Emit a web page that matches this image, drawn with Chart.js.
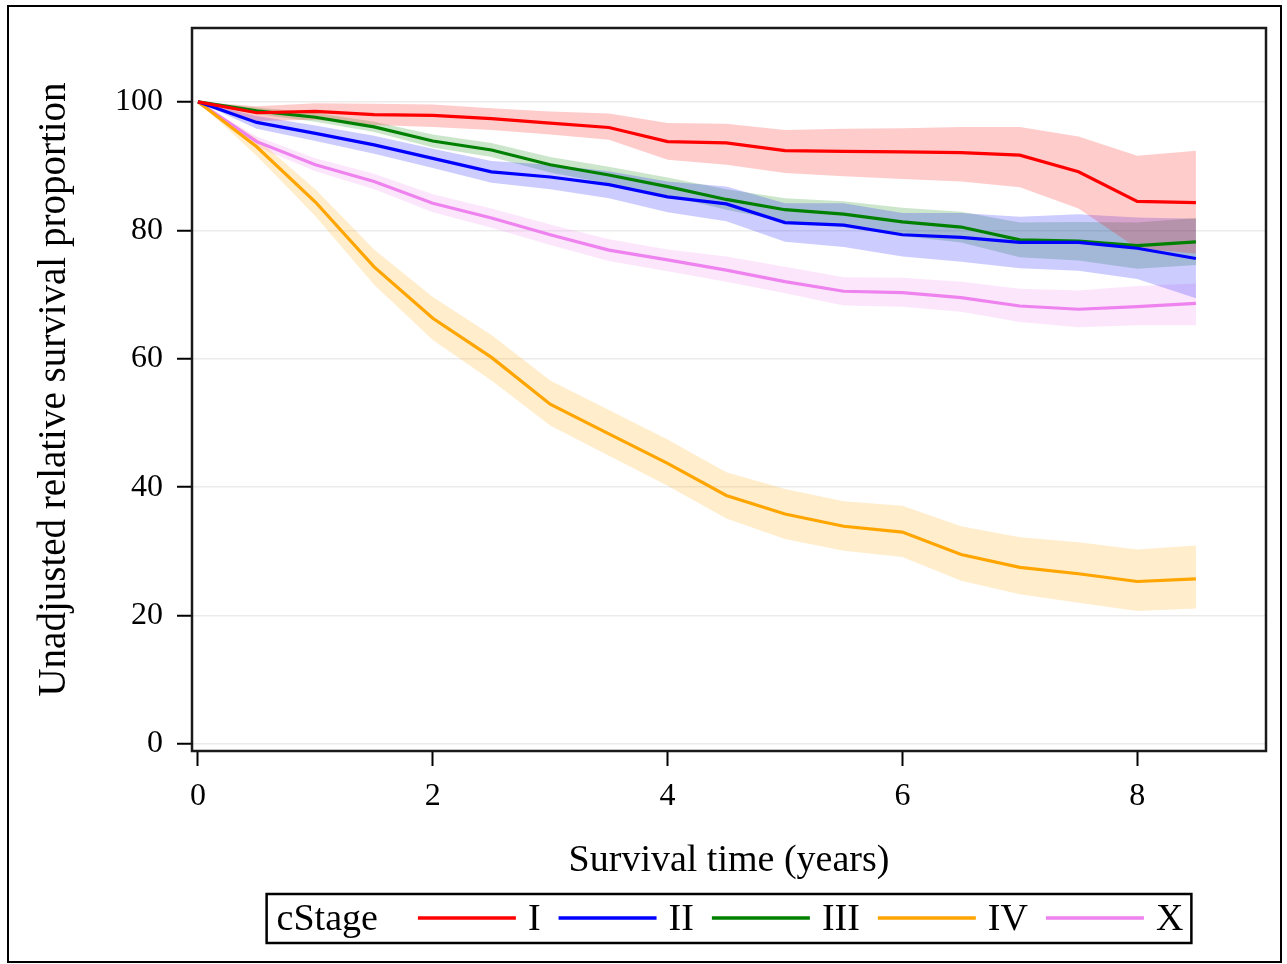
<!DOCTYPE html>
<html>
<head>
<meta charset="utf-8">
<script src="https://cdn.jsdelivr.net/npm/chart.js@4"></script>
<style>
  html, body { margin: 0; padding: 0; background: #fff; }
  #wrap { width: 1287px; height: 964px; position: relative; }
  canvas { display: block; }
</style>
</head>
<body>
<div id="wrap"><canvas id="c" width="1287" height="964"></canvas></div>
<script>
// ---- data ----
const times = [0, 0.5, 1, 1.5, 2, 2.5, 3, 3.5, 4, 4.5, 5, 5.5, 6, 6.5, 7, 7.5, 8, 8.5];
const stageNames = ["I", "II", "III", "IV", "X"];

const stageI      = [100, 98.3, 98.5, 98.0, 97.9, 97.4, 96.7, 96.0, 93.8, 93.6, 92.4, 92.3, 92.2, 92.1, 91.7, 89.1, 84.5, 84.3];
const stageIUpper = [100, 99.3, 99.8, 99.7, 99.6, 99.0, 98.5, 98.2, 96.7, 96.6, 95.6, 95.8, 95.9, 96.1, 96.1, 94.6, 91.6, 92.4];
const stageILower = [100, 97.0, 97.2, 96.4, 96.1, 95.6, 94.9, 94.1, 91.0, 90.2, 88.9, 88.4, 88.0, 87.6, 86.7, 83.4, 77.2, 76.4];

const stageII      = [100, 96.8, 95.1, 93.3, 91.2, 89.1, 88.3, 87.1, 85.2, 84.1, 81.2, 80.8, 79.3, 78.9, 78.1, 78.1, 77.2, 75.6];
const stageIIUpper = [100, 97.8, 96.3, 94.7, 92.7, 90.8, 90.2, 89.2, 87.6, 86.8, 84.2, 84.2, 82.7, 82.7, 82.1, 82.5, 82.0, 81.8];
const stageIILower = [100, 95.8, 93.9, 91.9, 89.7, 87.4, 86.4, 85.0, 82.8, 81.4, 78.2, 77.4, 75.9, 75.1, 74.1, 73.7, 72.4, 69.4];

const stageIII      = [100, 98.6, 97.6, 96.1, 93.9, 92.5, 90.2, 88.6, 86.8, 84.8, 83.2, 82.5, 81.3, 80.5, 78.5, 78.3, 77.6, 78.2];
const stageIIIUpper = [100, 99.1, 98.3, 96.9, 94.9, 93.6, 91.4, 89.9, 88.2, 86.4, 85.0, 84.5, 83.5, 82.9, 81.2, 81.3, 81.2, 81.9];
const stageIIILower = [100, 98.1, 96.9, 95.3, 92.9, 91.4, 89.0, 87.3, 85.4, 83.2, 81.4, 80.5, 79.1, 78.1, 75.8, 75.3, 74.0, 74.6];

const stageIV      = [100, 93.0, 84.4, 74.3, 66.3, 60.2, 52.9, 48.3, 43.7, 38.7, 35.8, 33.9, 33.0, 29.5, 27.5, 26.5, 25.3, 25.7];
const stageIVUpper = [100, 94.3, 86.4, 77.0, 69.6, 63.7, 56.6, 52.0, 47.4, 42.3, 39.7, 37.8, 37.1, 33.9, 32.2, 31.4, 30.3, 30.9];
const stageIVLower = [100, 91.6, 82.2, 71.5, 62.9, 56.6, 49.6, 44.9, 40.2, 35.1, 31.9, 30.1, 29.1, 25.4, 23.3, 22.0, 20.7, 21.1];

const stageX      = [100, 93.8, 90.2, 87.6, 84.2, 81.9, 79.3, 76.9, 75.4, 73.8, 72.0, 70.5, 70.3, 69.5, 68.2, 67.7, 68.1, 68.6];
const stageXUpper = [100, 94.6, 91.2, 88.8, 85.6, 83.4, 80.9, 78.6, 77.0, 75.9, 74.3, 72.7, 72.6, 72.0, 70.9, 70.6, 71.3, 71.7];
const stageXLower = [100, 93.0, 89.2, 86.4, 82.8, 80.4, 77.7, 75.2, 73.6, 72.0, 70.2, 68.3, 68.1, 67.3, 65.7, 64.9, 65.2, 65.2];

const xTicks = [0, 2, 4, 6, 8];
const yTicks = [0, 20, 40, 60, 80, 100];

// ---- styling ----
const lineColors = ["#ff0000", "#0000ff", "#008000", "#ffa500", "#ee82ee"];
const bandColors = ["rgba(255,0,0,0.2)", "rgba(0,0,255,0.2)", "rgba(0,128,0,0.2)", "rgba(255,165,0,0.2)", "rgba(238,130,238,0.2)"];
const serif = '"Liberation Serif", "Times New Roman", serif';

const est = [stageI, stageII, stageIII, stageIV, stageX];
const upp = [stageIUpper, stageIIUpper, stageIIIUpper, stageIVUpper, stageXUpper];
const low = [stageILower, stageIILower, stageIIILower, stageIVLower, stageXLower];
const pts = arr => arr.map((v, i) => ({ x: times[i], y: v }));

const datasets = [];
est.forEach((s, k) => datasets.push({
  label: stageNames[k], data: pts(s), borderColor: lineColors[k], borderWidth: 3.2,
  pointRadius: 0, tension: 0, fill: false, order: 0
}));
est.forEach((s, k) => {
  datasets.push({
    label: stageNames[k] + " upper", data: pts(upp[k]), borderWidth: 0, borderColor: "rgba(0,0,0,0)",
    pointRadius: 0, tension: 0, fill: false, order: 1
  });
  datasets.push({
    label: stageNames[k] + " lower", data: pts(low[k]), borderWidth: 0, borderColor: "rgba(0,0,0,0)",
    backgroundColor: bandColors[k], pointRadius: 0, tension: 0, fill: "-1", order: 1
  });
});

const framePlugin = {
  id: "frame",
  beforeDraw(chart) {
    const ctx = chart.ctx;
    ctx.save();
    ctx.fillStyle = "#fff";
    ctx.fillRect(0, 0, chart.width, chart.height);
    ctx.strokeStyle = "#000";
    ctx.lineWidth = 2;
    ctx.strokeRect(8, 6, 1273, 956);
    ctx.restore();
  },
  afterDraw(chart) {
    const ctx = chart.ctx, a = chart.chartArea;
    ctx.save();
    ctx.strokeStyle = "#1a1a1a";
    ctx.lineWidth = 2.5;
    ctx.strokeRect(a.left, a.top, a.right - a.left, a.bottom - a.top);

    // legend
    ctx.font = "38px " + serif;
    ctx.textBaseline = "middle";
    ctx.fillStyle = "#000";
    const title = "cStage";
    const lineLen = 98, gapLT = 12, gapItem = 18, padL = 10, padR = 8, gapTitle = 40;
    let total = padL + ctx.measureText(title).width + gapTitle;
    stageNames.forEach((n, i) => {
      total += lineLen + gapLT + ctx.measureText(n).width + (i < stageNames.length - 1 ? gapItem : 0);
    });
    total += padR;
    const cx = (a.left + a.right) / 2;
    const bx = cx - total / 2, by = 894, bh = 49;
    const ty = 918;
    ctx.lineWidth = 2.5;
    ctx.strokeStyle = "#000";
    ctx.strokeRect(bx, by, total, bh);
    let x = bx + padL;
    ctx.textAlign = "left";
    ctx.fillText(title, x, ty + 2);
    x += ctx.measureText(title).width + gapTitle;
    stageNames.forEach((n, i) => {
      ctx.strokeStyle = lineColors[i];
      ctx.lineWidth = 3.5;
      ctx.beginPath();
      ctx.moveTo(x, ty);
      ctx.lineTo(x + lineLen, ty);
      ctx.stroke();
      x += lineLen + gapLT;
      ctx.fillStyle = "#000";
      ctx.fillText(n, x, ty + 2);
      x += ctx.measureText(n).width + gapItem;
    });
    ctx.restore();
  }
};

new Chart(document.getElementById("c"), {
  type: "line",
  data: { datasets },
  plugins: [framePlugin],
  options: {
    responsive: false,
    animation: false,
    devicePixelRatio: 1,
    layout: { padding: { left: 31, top: 28, right: 21, bottom: 80 } },
    plugins: { legend: { display: false }, tooltip: { enabled: false }, filler: { propagate: false } },
    scales: {
      x: {
        type: "linear", min: -0.051, max: 9.097,
        afterFit: axis => { axis.height = 133; axis.paddingLeft = 0; axis.paddingRight = 0; },
        afterBuildTicks: axis => { axis.ticks = xTicks.map(v => ({ value: v })); },
        border: { display: false },
        grid: { drawOnChartArea: false, drawTicks: true, tickLength: 15, tickColor: "#000", tickWidth: 2 },
        ticks: { color: "#000", font: { family: serif, size: 32 }, padding: 11, maxRotation: 0, autoSkip: false },
        title: { display: true, text: "Survival time (years)", color: "#000", font: { family: serif, size: 38 }, padding: 0 }
      },
      y: {
        type: "linear", min: -1.1, max: 111.5,
        afterFit: axis => { axis.width = 161; axis.paddingTop = 0; axis.paddingBottom = 0; },
        afterBuildTicks: axis => { axis.ticks = yTicks.map(v => ({ value: v })); },
        border: { display: false },
        grid: { color: "#ebebeb", lineWidth: 1.5, drawTicks: true, tickLength: 15, tickColor: "#000", tickWidth: 2 },
        ticks: { color: "#000", font: { family: serif, size: 32 }, padding: 14, autoSkip: false },
        title: { display: true, text: "Unadjusted relative survival proportion", color: "#000", font: { family: serif, size: 39 }, padding: 0 }
      }
    }
  }
});
</script>
</body>
</html>
